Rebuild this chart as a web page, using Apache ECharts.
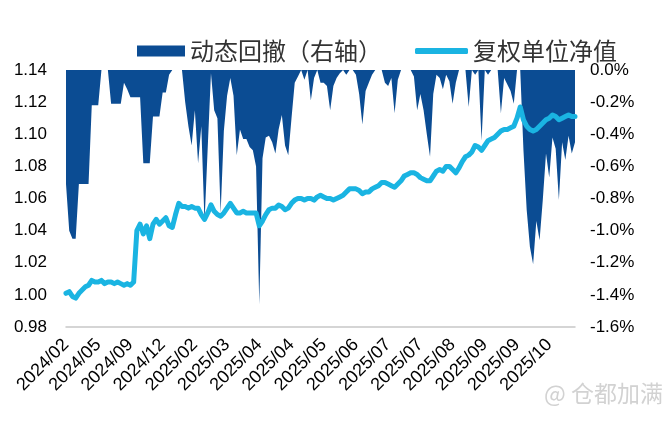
<!DOCTYPE html>
<html>
<head>
    <meta charset="utf-8">
    <title>动态回撤与复权单位净值</title>
    <script src="https://cdn.jsdelivr.net/npm/echarts@6/dist/echarts.min.js"></script>
    <style>
        html, body { margin: 0; padding: 0; background: #fff; }
    </style>
</head>
<body>
    <div id="main" style="width: 669px;height: 424px;"></div>
    <script type="text/javascript">
        // x轴标签，每10个数据点一个
        var tickLabels = ['2024/02', '2024/05', '2024/09', '2024/12', '2025/02', '2025/03', '2025/04', '2025/04',
            '2025/05', '2025/06', '2025/07', '2025/07', '2025/08', '2025/09', '2025/09', '2025/10'];
        var labelStep = 10;

        // 复权单位净值（左轴）
        var nav = [
            1.001, 1.002, 0.999, 0.998, 1.001, 1.003, 1.005, 1.006, 1.009, 1.008,
            1.008, 1.009, 1.007, 1.008, 1.008, 1.007, 1.008, 1.007, 1.006, 1.007,
            1.006, 1.008, 1.040, 1.044, 1.038, 1.043, 1.035, 1.044, 1.047, 1.044,
            1.046, 1.048, 1.043, 1.042, 1.050, 1.057, 1.055, 1.055, 1.054, 1.055,
            1.054, 1.054, 1.050, 1.047, 1.051, 1.056, 1.052, 1.050, 1.049, 1.051,
            1.054, 1.057, 1.054, 1.051, 1.051, 1.052, 1.051, 1.051, 1.051, 1.051,
            1.043, 1.046, 1.050, 1.053, 1.054, 1.054, 1.056, 1.055, 1.053, 1.054,
            1.057, 1.059, 1.060, 1.060, 1.059, 1.060, 1.060, 1.059, 1.061, 1.062,
            1.061, 1.060, 1.060, 1.059, 1.060, 1.061, 1.062, 1.064, 1.066, 1.066,
            1.066, 1.065, 1.063, 1.064, 1.064, 1.066, 1.067, 1.068, 1.070, 1.070,
            1.069, 1.068, 1.067, 1.069, 1.071, 1.074, 1.075, 1.076, 1.076, 1.075,
            1.073, 1.072, 1.071, 1.071, 1.074, 1.077, 1.078, 1.077, 1.080, 1.080,
            1.078, 1.076, 1.079, 1.083, 1.086, 1.087, 1.089, 1.093, 1.092, 1.090,
            1.093, 1.096, 1.097, 1.098, 1.100, 1.102, 1.103, 1.103, 1.104, 1.105,
            1.110, 1.117, 1.109, 1.105, 1.103, 1.102, 1.103, 1.105, 1.107, 1.109,
            1.110, 1.112, 1.111, 1.109, 1.110, 1.111, 1.112, 1.111, 1.111
        ];

        // 动态回撤 %（右轴）
        var drawdown = [
            -0.71, -1.00, -1.05, -1.05, -0.71, -0.71, -0.71, -0.71, -0.22, -0.22,
            -0.22, 0, 0, 0, -0.21, -0.21, -0.21, -0.21, -0.08, -0.12,
            -0.17, -0.17, -0.17, -0.17, -0.58, -0.58, -0.58, -0.29, -0.29, -0.29,
            -0.14, -0.14, -0.03, 0, 0, 0, 0, -0.20, -0.35, -0.47,
            -0.25, -0.58, -0.35, -0.95, -0.48, -0.02, -0.25, -0.30, -0.89, -0.38,
            -0.16, -0.05, -0.16, -0.53, -0.37, -0.43, -0.43, -0.48, -0.50, -0.60,
            -1.46, -0.55, -0.42, -0.41, -0.45, -0.52, -0.37, -0.28, -0.47, -0.53,
            -0.30, -0.08, -0.04, 0, -0.06, 0, -0.19, -0.05, 0, -0.08,
            -0.08, -0.10, -0.25, -0.10, -0.05, -0.02, 0, -0.03, 0, 0,
            -0.03, -0.15, -0.34, -0.13, -0.08, -0.03, 0, 0, 0, -0.08,
            -0.10, -0.05, -0.27, -0.06, 0, 0, 0, 0, -0.04, -0.25,
            -0.15, -0.25, -0.40, -0.54, -0.15, -0.03, -0.05, -0.12, -0.03, -0.07,
            -0.21, -0.08, 0, 0, 0, -0.23, 0, -0.03, 0, -0.44,
            0, -0.03, 0, 0, 0, -0.27, -0.05, -0.09, -0.13, -0.21,
            0, 0, -0.50, -0.87, -1.10, -1.21, -0.94, -1.06, -0.81, -0.52,
            -0.67, -0.42, -0.49, -0.81, -0.45, -0.56, -0.41, -0.52, -0.45
        ];

        var categories = nav.map(function (v, i) { return i; });

        var myChart = echarts.init(document.getElementById('main'));

        var option = {
            animation: false,
            legend: [{
                left: 132,
                top: 34,
                icon: 'rect',
                itemWidth: 48,
                itemHeight: 11,
                itemGap: 6,
                textStyle: { fontSize: 24, color: '#333', fontFamily: 'Noto Sans CJK SC' },
                data: ['动态回撤（右轴）']
            }, {
                left: 410,
                top: 34,
                icon: 'roundRect',
                itemWidth: 53,
                itemHeight: 6,
                textStyle: { fontSize: 24, color: '#333', fontFamily: 'Noto Sans CJK SC' },
                data: ['复权单位净值']
            }],
            grid: { left: 66, right: 94, top: 70, bottom: 97 },
            xAxis: {
                type: 'category',
                boundaryGap: false,
                data: categories,
                axisLine: { onZero: false, lineStyle: { color: '#c8c8c8', width: 1.5 } },
                axisTick: { show: false },
                axisLabel: {
                    interval: labelStep - 1,
                    rotate: 45,
                    margin: 15,
                    fontSize: 18,
                    color: '#000',
                    fontFamily: 'Liberation Sans',
                    formatter: function (v, idx) {
                        return idx % labelStep === 0 ? tickLabels[idx / labelStep] : '';
                    }
                }
            },
            yAxis: [{
                type: 'value',
                min: 0.98,
                max: 1.14,
                interval: 0.02,
                splitLine: { show: false },
                axisLine: { show: false },
                axisTick: { show: false },
                axisLabel: {
                    margin: 19,
                    fontSize: 17,
                    color: '#000',
                    fontFamily: 'Liberation Sans',
                    formatter: function (v) { return v.toFixed(2); }
                }
            }, {
                type: 'value',
                position: 'right',
                min: -1.6,
                max: 0,
                interval: 0.2,
                splitLine: { show: false },
                axisLine: { show: false },
                axisTick: { show: false },
                axisLabel: {
                    margin: 15,
                    fontSize: 17,
                    color: '#000',
                    fontFamily: 'Liberation Sans',
                    formatter: function (v) {
                        if (Math.abs(v) < 1e-9) return '0.0%';
                        return v.toFixed(1) + '%';
                    }
                }
            }],
            series: [{
                name: '动态回撤（右轴）',
                type: 'line',
                yAxisIndex: 1,
                data: drawdown,
                showSymbol: false,
                symbol: 'none',
                itemStyle: { color: '#0b4c93' },
                lineStyle: { width: 0, color: '#0b4c93' },
                areaStyle: { color: '#0b4c93', opacity: 1, origin: 'end' },
                z: 1
            }, {
                name: '复权单位净值',
                type: 'line',
                yAxisIndex: 0,
                data: nav,
                showSymbol: false,
                symbol: 'none',
                itemStyle: { color: '#1ab4e2' },
                lineStyle: { width: 5, color: '#1ab4e2', cap: 'round', join: 'round' },
                z: 3
            }],
            graphic: [{
                type: 'text',
                left: 544,
                top: 382,
                style: { text: '@ 仓都加满', fontSize: 23, fill: '#d2d2d2', fontFamily: 'Noto Sans CJK SC' }
            }]
        };

        myChart.setOption(option);
    </script>
</body>
</html>
